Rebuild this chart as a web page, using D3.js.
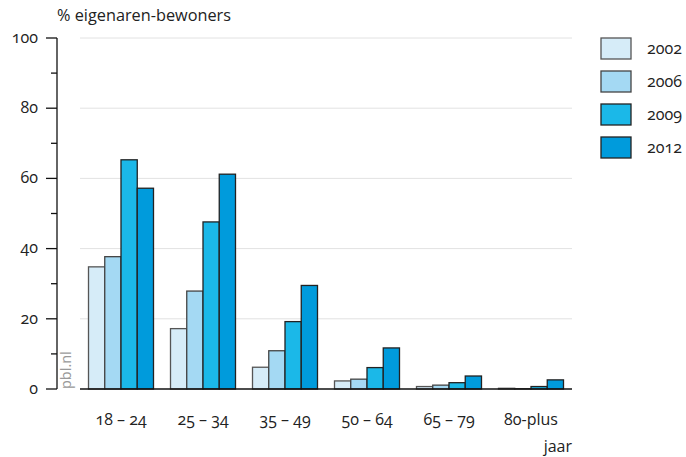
<!DOCTYPE html>
<html><head><meta charset="utf-8">
<script src="https://cdn.jsdelivr.net/npm/d3@7"></script>
<style>
body{margin:0;background:#fff;}
text{font-family:"Open Sans",Lato,sans-serif;font-variant-numeric:oldstyle-nums;font-feature-settings:"onum";fill:#222;}
</style></head><body>
<svg id="c" width="686" height="457"></svg>
<script>
const categories = ["18 – 24","25 – 34","35 – 49","50 – 64","65 – 79","80-plus"];
const seriesNames = ["2002","2006","2009","2012"];
const v2002 = [34.8, 17.2, 6.2, 2.3, 0.7, 0.2];
const v2006 = [37.7, 27.9, 10.9, 2.8, 1.1, 0.1];
const v2009 = [65.3, 47.6, 19.2, 6.1, 1.8, 0.7];
const v2012 = [57.2, 61.2, 29.5, 11.7, 3.7, 2.6];
const yTicks = [0,20,40,60,80,100];
const yMinorTicks = [10,30,50,70,90];
const colors = ["#d6ecf8","#a4d9f3","#1bb8e8","#009bdc"];
const strokes = ["#555","#444","#222","#222"];
const series = [v2002, v2006, v2009, v2012];

const svg = d3.select("#c");
const x = d3.scaleBand().domain(categories).range([80,572]).paddingInner(0).paddingOuter(0);
const inner = d3.scaleBand().domain(seriesNames).range([8.5, 82-8.5]);
const y = d3.scaleLinear().domain([0,100]).range([389,38]);

// gridlines
svg.append("g").selectAll("line").data(yTicks.filter(d=>d>0)).join("line")
  .attr("x1",80).attr("x2",572).attr("y1",d=>y(d)).attr("y2",d=>y(d))
  .attr("stroke","#e2e2e2").attr("stroke-width",1);

// bars
const g = svg.append("g");
series.forEach((vals,si)=>{
  g.selectAll(null).data(vals).join("rect")
    .attr("x",(d,i)=>x(categories[i])+inner(seriesNames[si]))
    .attr("y",d=>y(d))
    .attr("width",inner.bandwidth())
    .attr("height",d=>y(0)-y(d))
    .attr("fill",colors[si]).attr("stroke",strokes[si]).attr("stroke-width",1.3);
});

// baseline
svg.append("line").attr("x1",80).attr("x2",572).attr("y1",y(0)).attr("y2",y(0)).attr("stroke","#111").attr("stroke-width",1.3);

// y axis
const ax = svg.append("g").attr("transform","translate(57,0)");
ax.append("line").attr("y1",y(0)).attr("y2",y(100)).attr("stroke","#111").attr("stroke-width",1.3);
ax.selectAll(".maj").data(yTicks).join("line").attr("class","maj")
  .attr("x1",-11).attr("x2",0).attr("y1",d=>y(d)).attr("y2",d=>y(d)).attr("stroke","#111").attr("stroke-width",1.3);
ax.selectAll(".min").data(yMinorTicks).join("line").attr("class","min")
  .attr("x1",-6).attr("x2",0).attr("y1",d=>y(d)).attr("y2",d=>y(d)).attr("stroke","#111").attr("stroke-width",1.3);
ax.selectAll("text").data(yTicks).join("text")
  .attr("x",-19).attr("y",d=>y(d)).attr("dy","0.3em").attr("text-anchor","end")
  .attr("font-size",16).text(d=>d);

// x labels
svg.append("g").selectAll("text").data(categories).join("text")
  .attr("x",d=>x(d)+x.bandwidth()/2).attr("y",425).attr("text-anchor","middle")
  .attr("font-size",16).text(d=>d);

// titles
svg.append("text").attr("x",57).attr("y",21).attr("font-size",16.3).text("% eigenaren-bewoners");
svg.append("text").attr("x",572).attr("y",452).attr("text-anchor","end").attr("font-size",16).text("jaar");

// watermark
svg.append("text").attr("transform","translate(71,389) rotate(-90)").attr("font-size",14.5)
  .style("fill","#999").text("pbl.nl");

// legend
const lg = svg.append("g").selectAll("g").data(seriesNames).join("g")
  .attr("transform",(d,i)=>`translate(601,${38+i*33})`);
lg.append("rect").attr("width",30).attr("height",21)
  .attr("fill",(d,i)=>colors[i]).attr("stroke",(d,i)=>strokes[i]).attr("stroke-width",1.3);
lg.append("text").attr("x",46).attr("y",11).attr("dy","0.3em").attr("font-size",16).text(d=>d);
</script></body></html>
